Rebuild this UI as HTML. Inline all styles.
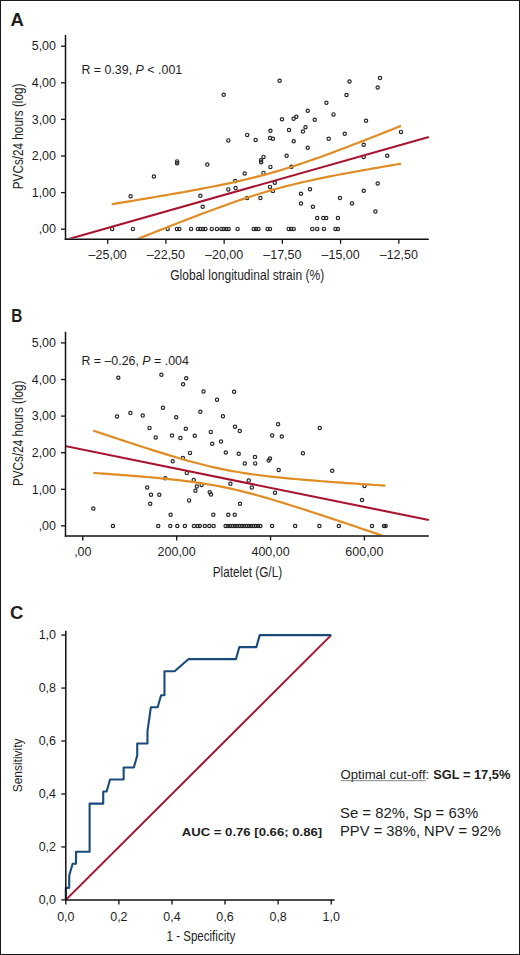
<!DOCTYPE html>
<html><head><meta charset="utf-8"><style>
html,body{margin:0;padding:0;background:#fff;}
#fig{position:relative;width:518px;height:953px;border:1px solid #1a1a1a;overflow:hidden;}
svg{position:absolute;left:-1px;top:-1px;}
</style></head><body><div id="fig">
<svg width="520" height="955" viewBox="0 0 520 955" font-family="Liberation Sans, sans-serif">
<defs>
<clipPath id="ca"><rect x="65.5" y="30" width="364" height="208.5"/></clipPath>
<clipPath id="cb"><rect x="65.5" y="327" width="364" height="208.2"/></clipPath>
</defs>
<g fill="none" stroke="#262626" stroke-width="1.2">
<circle cx="130.6" cy="196.2" r="1.65"/>
<circle cx="153.9" cy="176.5" r="1.65"/>
<circle cx="177.1" cy="161.4" r="1.65"/>
<circle cx="177.1" cy="163.2" r="1.65"/>
<circle cx="207.3" cy="164.6" r="1.65"/>
<circle cx="223.7" cy="94.8" r="1.65"/>
<circle cx="228.3" cy="140.4" r="1.65"/>
<circle cx="247.2" cy="134.9" r="1.65"/>
<circle cx="255.6" cy="140" r="1.65"/>
<circle cx="244.7" cy="173.5" r="1.65"/>
<circle cx="235.2" cy="181.1" r="1.65"/>
<circle cx="228.3" cy="189.4" r="1.65"/>
<circle cx="235.6" cy="188.1" r="1.65"/>
<circle cx="200.4" cy="195.8" r="1.65"/>
<circle cx="202.7" cy="206.7" r="1.65"/>
<circle cx="247.1" cy="198.1" r="1.65"/>
<circle cx="279.6" cy="80.8" r="1.65"/>
<circle cx="326.4" cy="102.7" r="1.65"/>
<circle cx="307.7" cy="110.8" r="1.65"/>
<circle cx="333.5" cy="114.4" r="1.65"/>
<circle cx="346.5" cy="95" r="1.65"/>
<circle cx="282" cy="119.2" r="1.65"/>
<circle cx="293.6" cy="118.8" r="1.65"/>
<circle cx="296.3" cy="116.7" r="1.65"/>
<circle cx="314.7" cy="119.8" r="1.65"/>
<circle cx="270.4" cy="130.8" r="1.65"/>
<circle cx="270" cy="138.1" r="1.65"/>
<circle cx="272.9" cy="138.8" r="1.65"/>
<circle cx="289" cy="130" r="1.65"/>
<circle cx="302.9" cy="131.6" r="1.65"/>
<circle cx="305.5" cy="127.2" r="1.65"/>
<circle cx="293.7" cy="141.2" r="1.65"/>
<circle cx="328.7" cy="138.8" r="1.65"/>
<circle cx="344.7" cy="133.8" r="1.65"/>
<circle cx="307.7" cy="147.7" r="1.65"/>
<circle cx="263.5" cy="156.9" r="1.65"/>
<circle cx="261" cy="160.3" r="1.65"/>
<circle cx="261.2" cy="162.2" r="1.65"/>
<circle cx="286.6" cy="155.8" r="1.65"/>
<circle cx="270.4" cy="166.9" r="1.65"/>
<circle cx="291.4" cy="166.7" r="1.65"/>
<circle cx="263.5" cy="172.9" r="1.65"/>
<circle cx="274.8" cy="182.7" r="1.65"/>
<circle cx="270" cy="186.9" r="1.65"/>
<circle cx="272.9" cy="191" r="1.65"/>
<circle cx="260.4" cy="198.1" r="1.65"/>
<circle cx="301" cy="193.8" r="1.65"/>
<circle cx="310" cy="189.2" r="1.65"/>
<circle cx="301" cy="203.5" r="1.65"/>
<circle cx="312.9" cy="206.7" r="1.65"/>
<circle cx="339.9" cy="198.1" r="1.65"/>
<circle cx="317.2" cy="218.1" r="1.65"/>
<circle cx="323.3" cy="218.1" r="1.65"/>
<circle cx="326.2" cy="218.1" r="1.65"/>
<circle cx="337.9" cy="218.1" r="1.65"/>
<circle cx="349.5" cy="81.5" r="1.65"/>
<circle cx="380" cy="78.1" r="1.65"/>
<circle cx="377.7" cy="87.5" r="1.65"/>
<circle cx="366" cy="120.8" r="1.65"/>
<circle cx="401" cy="131.9" r="1.65"/>
<circle cx="363.7" cy="144.8" r="1.65"/>
<circle cx="363.7" cy="156.9" r="1.65"/>
<circle cx="387.2" cy="155.8" r="1.65"/>
<circle cx="377.7" cy="183.5" r="1.65"/>
<circle cx="363.7" cy="190.8" r="1.65"/>
<circle cx="352" cy="203.5" r="1.65"/>
<circle cx="375.4" cy="211.5" r="1.65"/>
<circle cx="112.2" cy="228.9" r="1.65"/>
<circle cx="132.9" cy="228.9" r="1.65"/>
<circle cx="167.7" cy="228.9" r="1.65"/>
<circle cx="176.9" cy="228.9" r="1.65"/>
<circle cx="179.3" cy="228.9" r="1.65"/>
<circle cx="191.1" cy="228.9" r="1.65"/>
<circle cx="197.9" cy="228.9" r="1.65"/>
<circle cx="200.4" cy="228.9" r="1.65"/>
<circle cx="202.9" cy="228.9" r="1.65"/>
<circle cx="205.4" cy="228.9" r="1.65"/>
<circle cx="211.75" cy="228.9" r="1.65"/>
<circle cx="216.95" cy="228.9" r="1.65"/>
<circle cx="221.4" cy="228.9" r="1.65"/>
<circle cx="223.75" cy="228.9" r="1.65"/>
<circle cx="226.3" cy="228.9" r="1.65"/>
<circle cx="228.65" cy="228.9" r="1.65"/>
<circle cx="237.6" cy="228.9" r="1.65"/>
<circle cx="253.7" cy="228.9" r="1.65"/>
<circle cx="256" cy="228.9" r="1.65"/>
<circle cx="258.5" cy="228.9" r="1.65"/>
<circle cx="267.5" cy="228.9" r="1.65"/>
<circle cx="270" cy="228.9" r="1.65"/>
<circle cx="288.7" cy="228.9" r="1.65"/>
<circle cx="291.2" cy="228.9" r="1.65"/>
<circle cx="293.7" cy="228.9" r="1.65"/>
<circle cx="312.3" cy="228.9" r="1.65"/>
<circle cx="317.2" cy="228.9" r="1.65"/>
<circle cx="323.9" cy="228.9" r="1.65"/>
<circle cx="335.4" cy="228.9" r="1.65"/>
<circle cx="337.9" cy="228.9" r="1.65"/>
</g>
<polyline points="111.7,204.23 116.52,203.44 121.34,202.65 126.17,201.85 130.99,201.05 135.81,200.25 140.63,199.45 145.45,198.64 150.27,197.82 155.09,197.01 159.92,196.18 164.74,195.35 169.56,194.52 174.38,193.67 179.2,192.82 184.03,191.96 188.85,191.09 193.67,190.2 198.49,189.31 203.31,188.4 208.13,187.48 212.96,186.54 217.78,185.58 222.6,184.59 227.42,183.59 232.24,182.56 237.06,181.5 241.88,180.41 246.71,179.28 251.53,178.12 256.35,176.92 261.17,175.67 265.99,174.38 270.81,173.05 275.64,171.67 280.46,170.25 285.28,168.78 290.1,167.26 294.92,165.71 299.75,164.12 304.57,162.49 309.39,160.83 314.21,159.14 319.03,157.43 323.85,155.68 328.68,153.92 333.5,152.13 338.32,150.33 343.14,148.51 347.96,146.68 352.78,144.83 357.61,142.97 362.43,141.11 367.25,139.23 372.07,137.34 376.89,135.45 381.71,133.55 386.54,131.64 391.36,129.72 396.18,127.81 401,125.88" fill="none" stroke="#e08d26" stroke-width="2.2" stroke-linejoin="round" clip-path="url(#ca)"/>
<polyline points="111.7,249.43 116.52,247.49 121.34,245.54 126.17,243.6 130.99,241.67 135.81,239.73 140.63,237.8 145.45,235.88 150.27,233.96 155.09,232.04 159.92,230.13 164.74,228.22 169.56,226.33 174.38,224.44 179.2,222.55 184.03,220.68 188.85,218.82 193.67,216.96 198.49,215.12 203.31,213.3 208.13,211.49 212.96,209.69 217.78,207.92 222.6,206.16 227.42,204.43 232.24,202.73 237.06,201.05 241.88,199.41 246.71,197.8 251.53,196.23 256.35,194.7 261.17,193.21 265.99,191.76 270.81,190.36 275.64,189 280.46,187.69 285.28,186.43 290.1,185.2 294.92,184.02 299.75,182.88 304.57,181.77 309.39,180.7 314.21,179.65 319.03,178.63 323.85,177.64 328.68,176.67 333.5,175.72 338.32,174.79 343.14,173.87 347.96,172.97 352.78,172.08 357.61,171.21 362.43,170.34 367.25,169.48 372.07,168.64 376.89,167.8 381.71,166.96 386.54,166.14 391.36,165.31 396.18,164.5 401,163.69" fill="none" stroke="#e08d26" stroke-width="2.2" stroke-linejoin="round" clip-path="url(#ca)"/>
<polyline points="60,241.49 428.8,136.9" fill="none" stroke="#a8142e" stroke-width="2.1" stroke-linejoin="round" clip-path="url(#ca)"/>
<line x1="65.5" y1="35" x2="65.5" y2="239.95" stroke="#111" stroke-width="1.5"/>
<line x1="64.75" y1="239.2" x2="428.8" y2="239.2" stroke="#111" stroke-width="1.5"/>
<line x1="61" y1="46.2" x2="65.5" y2="46.2" stroke="#111" stroke-width="1.3"/>
<text x="56" y="50.4" text-anchor="end" font-size="12" fill="#1e1e1e" textLength="24.29" lengthAdjust="spacingAndGlyphs">5,00</text>
<line x1="61" y1="82.8" x2="65.5" y2="82.8" stroke="#111" stroke-width="1.3"/>
<text x="56" y="87" text-anchor="end" font-size="12" fill="#1e1e1e" textLength="24.29" lengthAdjust="spacingAndGlyphs">4,00</text>
<line x1="61" y1="119.4" x2="65.5" y2="119.4" stroke="#111" stroke-width="1.3"/>
<text x="56" y="123.6" text-anchor="end" font-size="12" fill="#1e1e1e" textLength="24.29" lengthAdjust="spacingAndGlyphs">3,00</text>
<line x1="61" y1="156" x2="65.5" y2="156" stroke="#111" stroke-width="1.3"/>
<text x="56" y="160.2" text-anchor="end" font-size="12" fill="#1e1e1e" textLength="24.29" lengthAdjust="spacingAndGlyphs">2,00</text>
<line x1="61" y1="192.6" x2="65.5" y2="192.6" stroke="#111" stroke-width="1.3"/>
<text x="56" y="196.8" text-anchor="end" font-size="12" fill="#1e1e1e" textLength="24.29" lengthAdjust="spacingAndGlyphs">1,00</text>
<line x1="61" y1="229.2" x2="65.5" y2="229.2" stroke="#111" stroke-width="1.3"/>
<text x="56" y="233.4" text-anchor="end" font-size="12" fill="#1e1e1e" textLength="17.35" lengthAdjust="spacingAndGlyphs">,00</text>
<line x1="107.7" y1="239.2" x2="107.7" y2="243.7" stroke="#111" stroke-width="1.3"/>
<text x="107.7" y="259.2" text-anchor="middle" font-size="12" fill="#1e1e1e" textLength="38.16" lengthAdjust="spacingAndGlyphs">–25,00</text>
<line x1="165.92" y1="239.2" x2="165.92" y2="243.7" stroke="#111" stroke-width="1.3"/>
<text x="165.92" y="259.2" text-anchor="middle" font-size="12" fill="#1e1e1e" textLength="38.16" lengthAdjust="spacingAndGlyphs">–22,50</text>
<line x1="224.14" y1="239.2" x2="224.14" y2="243.7" stroke="#111" stroke-width="1.3"/>
<text x="224.14" y="259.2" text-anchor="middle" font-size="12" fill="#1e1e1e" textLength="38.16" lengthAdjust="spacingAndGlyphs">–20,00</text>
<line x1="282.36" y1="239.2" x2="282.36" y2="243.7" stroke="#111" stroke-width="1.3"/>
<text x="282.36" y="259.2" text-anchor="middle" font-size="12" fill="#1e1e1e" textLength="38.16" lengthAdjust="spacingAndGlyphs">–17,50</text>
<line x1="340.58" y1="239.2" x2="340.58" y2="243.7" stroke="#111" stroke-width="1.3"/>
<text x="340.58" y="259.2" text-anchor="middle" font-size="12" fill="#1e1e1e" textLength="38.16" lengthAdjust="spacingAndGlyphs">–15,00</text>
<line x1="398.8" y1="239.2" x2="398.8" y2="243.7" stroke="#111" stroke-width="1.3"/>
<text x="398.8" y="259.2" text-anchor="middle" font-size="12" fill="#1e1e1e" textLength="38.16" lengthAdjust="spacingAndGlyphs">–12,50</text>
<g fill="none" stroke="#262626" stroke-width="1.2">
<circle cx="118.3" cy="377.7" r="1.65"/>
<circle cx="161.4" cy="374.8" r="1.65"/>
<circle cx="162.9" cy="407.7" r="1.65"/>
<circle cx="117" cy="416.5" r="1.65"/>
<circle cx="130.4" cy="413.1" r="1.65"/>
<circle cx="142.7" cy="415.6" r="1.65"/>
<circle cx="149.5" cy="427.9" r="1.65"/>
<circle cx="155.7" cy="437.5" r="1.65"/>
<circle cx="93.3" cy="508.5" r="1.65"/>
<circle cx="147.2" cy="487.5" r="1.65"/>
<circle cx="151" cy="494.8" r="1.65"/>
<circle cx="159.3" cy="494.8" r="1.65"/>
<circle cx="150.2" cy="503.8" r="1.65"/>
<circle cx="165.3" cy="478.2" r="1.65"/>
<circle cx="186.2" cy="378.3" r="1.65"/>
<circle cx="183.1" cy="384.2" r="1.65"/>
<circle cx="203.5" cy="391.5" r="1.65"/>
<circle cx="234.1" cy="391.7" r="1.65"/>
<circle cx="217" cy="399.8" r="1.65"/>
<circle cx="200.4" cy="411.7" r="1.65"/>
<circle cx="176.2" cy="417.3" r="1.65"/>
<circle cx="222.9" cy="416.2" r="1.65"/>
<circle cx="185.8" cy="428.7" r="1.65"/>
<circle cx="235" cy="426.7" r="1.65"/>
<circle cx="239.8" cy="431" r="1.65"/>
<circle cx="210.8" cy="431.9" r="1.65"/>
<circle cx="172" cy="435.6" r="1.65"/>
<circle cx="180.4" cy="438.1" r="1.65"/>
<circle cx="194.7" cy="435.8" r="1.65"/>
<circle cx="212.2" cy="443.7" r="1.65"/>
<circle cx="221" cy="441.6" r="1.65"/>
<circle cx="190" cy="452.9" r="1.65"/>
<circle cx="225.8" cy="452.5" r="1.65"/>
<circle cx="238.7" cy="453.7" r="1.65"/>
<circle cx="255" cy="457.1" r="1.65"/>
<circle cx="255.2" cy="463.4" r="1.65"/>
<circle cx="244.8" cy="463.5" r="1.65"/>
<circle cx="182.9" cy="458.1" r="1.65"/>
<circle cx="172.7" cy="461.3" r="1.65"/>
<circle cx="186.8" cy="473.1" r="1.65"/>
<circle cx="193.7" cy="480" r="1.65"/>
<circle cx="196.8" cy="486.5" r="1.65"/>
<circle cx="201.6" cy="485" r="1.65"/>
<circle cx="195.4" cy="490.8" r="1.65"/>
<circle cx="230.4" cy="483.8" r="1.65"/>
<circle cx="248.7" cy="480.6" r="1.65"/>
<circle cx="251.8" cy="487.5" r="1.65"/>
<circle cx="209.7" cy="492.3" r="1.65"/>
<circle cx="211" cy="494.6" r="1.65"/>
<circle cx="189.1" cy="500.4" r="1.65"/>
<circle cx="240" cy="503.7" r="1.65"/>
<circle cx="170.6" cy="514.8" r="1.65"/>
<circle cx="213.3" cy="514.8" r="1.65"/>
<circle cx="228.3" cy="514.8" r="1.65"/>
<circle cx="234.7" cy="514.8" r="1.65"/>
<circle cx="278.1" cy="424.2" r="1.65"/>
<circle cx="272.2" cy="435.5" r="1.65"/>
<circle cx="281.8" cy="436.6" r="1.65"/>
<circle cx="319.7" cy="428.1" r="1.65"/>
<circle cx="270" cy="458.5" r="1.65"/>
<circle cx="268.7" cy="460.4" r="1.65"/>
<circle cx="302.9" cy="453.3" r="1.65"/>
<circle cx="278.7" cy="470" r="1.65"/>
<circle cx="332.2" cy="470.8" r="1.65"/>
<circle cx="275" cy="492.7" r="1.65"/>
<circle cx="364.5" cy="486" r="1.65"/>
<circle cx="362" cy="500" r="1.65"/>
<circle cx="112.9" cy="526" r="1.65"/>
<circle cx="158.2" cy="526" r="1.65"/>
<circle cx="170.3" cy="526" r="1.65"/>
<circle cx="177.3" cy="526" r="1.65"/>
<circle cx="184.8" cy="526" r="1.65"/>
<circle cx="193.9" cy="526" r="1.65"/>
<circle cx="197.5" cy="526" r="1.65"/>
<circle cx="199.8" cy="526" r="1.65"/>
<circle cx="204.8" cy="526" r="1.65"/>
<circle cx="209.3" cy="526" r="1.65"/>
<circle cx="213.6" cy="526" r="1.65"/>
<circle cx="225.6" cy="526" r="1.65"/>
<circle cx="227.9" cy="526" r="1.65"/>
<circle cx="230.2" cy="526" r="1.65"/>
<circle cx="232.6" cy="526" r="1.65"/>
<circle cx="234.9" cy="526" r="1.65"/>
<circle cx="237.2" cy="526" r="1.65"/>
<circle cx="239.5" cy="526" r="1.65"/>
<circle cx="241.8" cy="526" r="1.65"/>
<circle cx="244.2" cy="526" r="1.65"/>
<circle cx="246.5" cy="526" r="1.65"/>
<circle cx="248.8" cy="526" r="1.65"/>
<circle cx="251.1" cy="526" r="1.65"/>
<circle cx="253.4" cy="526" r="1.65"/>
<circle cx="255.8" cy="526" r="1.65"/>
<circle cx="258.1" cy="526" r="1.65"/>
<circle cx="260.4" cy="526" r="1.65"/>
<circle cx="272.1" cy="526" r="1.65"/>
<circle cx="295.2" cy="526" r="1.65"/>
<circle cx="319.4" cy="526" r="1.65"/>
<circle cx="338.8" cy="526" r="1.65"/>
<circle cx="372" cy="526" r="1.65"/>
<circle cx="384.1" cy="526" r="1.65"/>
<circle cx="385.6" cy="526" r="1.65"/>
</g>
<polyline points="93.3,430.6 98.17,432.24 103.04,433.88 107.91,435.51 112.77,437.14 117.64,438.76 122.51,440.37 127.38,441.97 132.25,443.57 137.11,445.15 141.98,446.73 146.85,448.29 151.72,449.84 156.59,451.38 161.46,452.89 166.32,454.39 171.19,455.86 176.06,457.31 180.93,458.73 185.8,460.12 190.67,461.47 195.53,462.79 200.4,464.06 205.27,465.28 210.14,466.45 215.01,467.57 219.88,468.63 224.75,469.63 229.61,470.58 234.48,471.46 239.35,472.29 244.22,473.07 249.09,473.8 253.95,474.49 258.82,475.13 263.69,475.74 268.56,476.31 273.43,476.86 278.3,477.37 283.16,477.87 288.03,478.34 292.9,478.79 297.77,479.23 302.64,479.66 307.51,480.07 312.37,480.47 317.24,480.86 322.11,481.24 326.98,481.61 331.85,481.98 336.72,482.33 341.58,482.69 346.45,483.03 351.32,483.37 356.19,483.71 361.06,484.05 365.93,484.38 370.79,484.7 375.66,485.02 380.53,485.34 385.4,485.66" fill="none" stroke="#e08d26" stroke-width="2.2" stroke-linejoin="round" clip-path="url(#cb)"/>
<polyline points="93.3,472.91 98.17,473.25 103.04,473.59 107.91,473.94 112.77,474.3 117.64,474.66 122.51,475.03 127.38,475.41 132.25,475.79 137.11,476.19 141.98,476.6 146.85,477.01 151.72,477.45 156.59,477.89 161.46,478.36 166.32,478.84 171.19,479.35 176.06,479.88 180.93,480.45 185.8,481.04 190.67,481.67 195.53,482.33 200.4,483.05 205.27,483.8 210.14,484.61 215.01,485.48 219.88,486.4 224.75,487.38 229.61,488.42 234.48,489.51 239.35,490.66 244.22,491.86 249.09,493.11 253.95,494.41 258.82,495.75 263.69,497.12 268.56,498.53 273.43,499.97 278.3,501.43 283.16,502.92 288.03,504.43 292.9,505.95 297.77,507.5 302.64,509.05 307.51,510.62 312.37,512.21 317.24,513.8 322.11,515.4 326.98,517.01 331.85,518.62 336.72,520.25 341.58,521.88 346.45,523.51 351.32,525.15 356.19,526.8 361.06,528.44 365.93,530.09 370.79,531.75 375.66,533.41 380.53,535.07 385.4,536.73" fill="none" stroke="#e08d26" stroke-width="2.2" stroke-linejoin="round" clip-path="url(#cb)"/>
<polyline points="60,444.98 428.8,520.03" fill="none" stroke="#a8142e" stroke-width="2.1" stroke-linejoin="round" clip-path="url(#cb)"/>
<line x1="65.5" y1="331.7" x2="65.5" y2="536.65" stroke="#111" stroke-width="1.5"/>
<line x1="64.75" y1="535.9" x2="428.8" y2="535.9" stroke="#111" stroke-width="1.5"/>
<line x1="61" y1="342.9" x2="65.5" y2="342.9" stroke="#111" stroke-width="1.3"/>
<text x="56" y="347.1" text-anchor="end" font-size="12" fill="#1e1e1e" textLength="24.29" lengthAdjust="spacingAndGlyphs">5,00</text>
<line x1="61" y1="379.5" x2="65.5" y2="379.5" stroke="#111" stroke-width="1.3"/>
<text x="56" y="383.7" text-anchor="end" font-size="12" fill="#1e1e1e" textLength="24.29" lengthAdjust="spacingAndGlyphs">4,00</text>
<line x1="61" y1="416.1" x2="65.5" y2="416.1" stroke="#111" stroke-width="1.3"/>
<text x="56" y="420.3" text-anchor="end" font-size="12" fill="#1e1e1e" textLength="24.29" lengthAdjust="spacingAndGlyphs">3,00</text>
<line x1="61" y1="452.7" x2="65.5" y2="452.7" stroke="#111" stroke-width="1.3"/>
<text x="56" y="456.9" text-anchor="end" font-size="12" fill="#1e1e1e" textLength="24.29" lengthAdjust="spacingAndGlyphs">2,00</text>
<line x1="61" y1="489.3" x2="65.5" y2="489.3" stroke="#111" stroke-width="1.3"/>
<text x="56" y="493.5" text-anchor="end" font-size="12" fill="#1e1e1e" textLength="24.29" lengthAdjust="spacingAndGlyphs">1,00</text>
<line x1="61" y1="525.9" x2="65.5" y2="525.9" stroke="#111" stroke-width="1.3"/>
<text x="56" y="530.1" text-anchor="end" font-size="12" fill="#1e1e1e" textLength="17.35" lengthAdjust="spacingAndGlyphs">,00</text>
<line x1="82.8" y1="535.9" x2="82.8" y2="540.4" stroke="#111" stroke-width="1.3"/>
<text x="82.8" y="555.9" text-anchor="middle" font-size="12" fill="#1e1e1e" textLength="17.35" lengthAdjust="spacingAndGlyphs">,00</text>
<line x1="176.67" y1="535.9" x2="176.67" y2="540.4" stroke="#111" stroke-width="1.3"/>
<text x="176.67" y="555.9" text-anchor="middle" font-size="12" fill="#1e1e1e" textLength="38.16" lengthAdjust="spacingAndGlyphs">200,00</text>
<line x1="270.54" y1="535.9" x2="270.54" y2="540.4" stroke="#111" stroke-width="1.3"/>
<text x="270.54" y="555.9" text-anchor="middle" font-size="12" fill="#1e1e1e" textLength="38.16" lengthAdjust="spacingAndGlyphs">400,00</text>
<line x1="364.41" y1="535.9" x2="364.41" y2="540.4" stroke="#111" stroke-width="1.3"/>
<text x="364.41" y="555.9" text-anchor="middle" font-size="12" fill="#1e1e1e" textLength="38.16" lengthAdjust="spacingAndGlyphs">600,00</text>
<polyline points="65.8,899.9 331.2,635.1" fill="none" stroke="#a8142e" stroke-width="2" stroke-linejoin="round"/>
<polyline points="65.8,899.9 65.8,887.86 69.2,887.86 69.2,875.83 72.61,863.79 76.01,863.79 76.01,851.75 89.62,851.75 89.62,803.61 103.23,803.61 103.23,791.57 106.63,791.57 110.03,779.54 123.64,779.54 123.64,767.5 133.85,767.5 137.25,755.46 137.25,743.43 147.46,743.43 147.46,731.39 150.86,707.32 157.67,707.32 161.07,695.28 164.47,695.28 164.47,671.21 174.68,671.21 188.29,659.17 235.93,659.17 239.33,647.14 256.34,647.14 259.75,635.1 331.2,635.1" fill="none" stroke="#1a4b7a" stroke-width="2.1" stroke-linejoin="round"/>
<line x1="65.8" y1="630.8" x2="65.8" y2="900.65" stroke="#111" stroke-width="1.5"/>
<line x1="65.05" y1="899.9" x2="334.6" y2="899.9" stroke="#111" stroke-width="1.5"/>
<line x1="61.3" y1="899.9" x2="65.8" y2="899.9" stroke="#111" stroke-width="1.3"/>
<text x="56" y="904.1" text-anchor="end" font-size="12" fill="#1e1e1e" textLength="17.35" lengthAdjust="spacingAndGlyphs">0,0</text>
<line x1="61.3" y1="846.94" x2="65.8" y2="846.94" stroke="#111" stroke-width="1.3"/>
<text x="56" y="851.14" text-anchor="end" font-size="12" fill="#1e1e1e" textLength="17.35" lengthAdjust="spacingAndGlyphs">0,2</text>
<line x1="61.3" y1="793.98" x2="65.8" y2="793.98" stroke="#111" stroke-width="1.3"/>
<text x="56" y="798.18" text-anchor="end" font-size="12" fill="#1e1e1e" textLength="17.35" lengthAdjust="spacingAndGlyphs">0,4</text>
<line x1="61.3" y1="741.02" x2="65.8" y2="741.02" stroke="#111" stroke-width="1.3"/>
<text x="56" y="745.22" text-anchor="end" font-size="12" fill="#1e1e1e" textLength="17.35" lengthAdjust="spacingAndGlyphs">0,6</text>
<line x1="61.3" y1="688.06" x2="65.8" y2="688.06" stroke="#111" stroke-width="1.3"/>
<text x="56" y="692.26" text-anchor="end" font-size="12" fill="#1e1e1e" textLength="17.35" lengthAdjust="spacingAndGlyphs">0,8</text>
<line x1="61.3" y1="635.1" x2="65.8" y2="635.1" stroke="#111" stroke-width="1.3"/>
<text x="56" y="639.3" text-anchor="end" font-size="12" fill="#1e1e1e" textLength="17.35" lengthAdjust="spacingAndGlyphs">1,0</text>
<line x1="65.8" y1="899.9" x2="65.8" y2="904.4" stroke="#111" stroke-width="1.3"/>
<text x="65.8" y="920.6" text-anchor="middle" font-size="12" fill="#1e1e1e" textLength="17.35" lengthAdjust="spacingAndGlyphs">0,0</text>
<line x1="118.88" y1="899.9" x2="118.88" y2="904.4" stroke="#111" stroke-width="1.3"/>
<text x="118.88" y="920.6" text-anchor="middle" font-size="12" fill="#1e1e1e" textLength="17.35" lengthAdjust="spacingAndGlyphs">0,2</text>
<line x1="171.96" y1="899.9" x2="171.96" y2="904.4" stroke="#111" stroke-width="1.3"/>
<text x="171.96" y="920.6" text-anchor="middle" font-size="12" fill="#1e1e1e" textLength="17.35" lengthAdjust="spacingAndGlyphs">0,4</text>
<line x1="225.04" y1="899.9" x2="225.04" y2="904.4" stroke="#111" stroke-width="1.3"/>
<text x="225.04" y="920.6" text-anchor="middle" font-size="12" fill="#1e1e1e" textLength="17.35" lengthAdjust="spacingAndGlyphs">0,6</text>
<line x1="278.12" y1="899.9" x2="278.12" y2="904.4" stroke="#111" stroke-width="1.3"/>
<text x="278.12" y="920.6" text-anchor="middle" font-size="12" fill="#1e1e1e" textLength="17.35" lengthAdjust="spacingAndGlyphs">0,8</text>
<line x1="331.2" y1="899.9" x2="331.2" y2="904.4" stroke="#111" stroke-width="1.3"/>
<text x="331.2" y="920.6" text-anchor="middle" font-size="12" fill="#1e1e1e" textLength="17.35" lengthAdjust="spacingAndGlyphs">1,0</text>
<text x="10.5" y="25.6" font-size="18.5" text-anchor="start" fill="#1e1e1e" font-weight="700">A</text>
<text x="0" y="0" font-size="17.8" font-weight="700" fill="#1e1e1e" transform="translate(11.3,322.2) scale(0.86,1)">B</text>
<text x="10" y="619.4" font-size="18.5" text-anchor="start" fill="#1e1e1e" font-weight="700">C</text>
<text x="81.4" y="73.9" font-size="12" text-anchor="start" fill="#1e1e1e" textLength="100.8" lengthAdjust="spacingAndGlyphs">R = 0.39, <tspan font-style="italic">P</tspan> &lt; .001</text>
<text x="81.4" y="365.3" font-size="12" text-anchor="start" fill="#1e1e1e" textLength="107.5" lengthAdjust="spacingAndGlyphs">R = –0.26, <tspan font-style="italic">P</tspan> = .004</text>
<text x="247.2" y="279.8" font-size="14" text-anchor="middle" fill="#1e1e1e" textLength="154" lengthAdjust="spacingAndGlyphs">Global longitudinal strain (%)</text>
<text x="247.4" y="577.1" font-size="14" text-anchor="middle" fill="#1e1e1e" textLength="69.5" lengthAdjust="spacingAndGlyphs">Platelet (G/L)</text>
<text x="200.9" y="941.1" font-size="14" text-anchor="middle" fill="#1e1e1e" textLength="68.6" lengthAdjust="spacingAndGlyphs">1 - Specificity</text>
<g transform="translate(23,136.4) rotate(-90)"><text x="0" y="0" font-size="14" text-anchor="middle" fill="#1e1e1e" textLength="105.6" lengthAdjust="spacingAndGlyphs">PVCs/24 hours (log)</text></g>
<g transform="translate(23,433.3) rotate(-90)"><text x="0" y="0" font-size="14" text-anchor="middle" fill="#1e1e1e" textLength="105.6" lengthAdjust="spacingAndGlyphs">PVCs/24 hours (log)</text></g>
<g transform="translate(21.5,765.4) rotate(-90)"><text x="0" y="0" font-size="13" text-anchor="middle" fill="#1e1e1e" textLength="53.9" lengthAdjust="spacingAndGlyphs">Sensitivity</text></g>
<text x="340.6" y="779.4" font-size="13" text-anchor="start" fill="#1e1e1e" textLength="85" lengthAdjust="spacingAndGlyphs">Optimal cut-off</text>
<line x1="340.6" y1="780.7" x2="425.4" y2="780.7" stroke="#666" stroke-width="0.8"/>
<text x="425.6" y="779.4" font-size="13" text-anchor="start" fill="#1e1e1e">:</text>
<text x="433.2" y="779" font-size="12.6" text-anchor="start" fill="#1e1e1e" font-weight="700" textLength="77.2" lengthAdjust="spacingAndGlyphs">SGL = 17,5%</text>
<text x="340" y="818.3" font-size="14.5" text-anchor="start" fill="#1e1e1e" textLength="138.2" lengthAdjust="spacingAndGlyphs">Se = 82%, Sp = 63%</text>
<text x="340" y="835.6" font-size="14.5" text-anchor="start" fill="#1e1e1e" textLength="160.8" lengthAdjust="spacingAndGlyphs">PPV = 38%, NPV = 92%</text>
<text x="181.7" y="836.2" font-size="11.6" text-anchor="start" fill="#1e1e1e" font-weight="700" textLength="140.5" lengthAdjust="spacingAndGlyphs">AUC = 0.76 [0.66; 0.86]</text>
</svg></div></body></html>
